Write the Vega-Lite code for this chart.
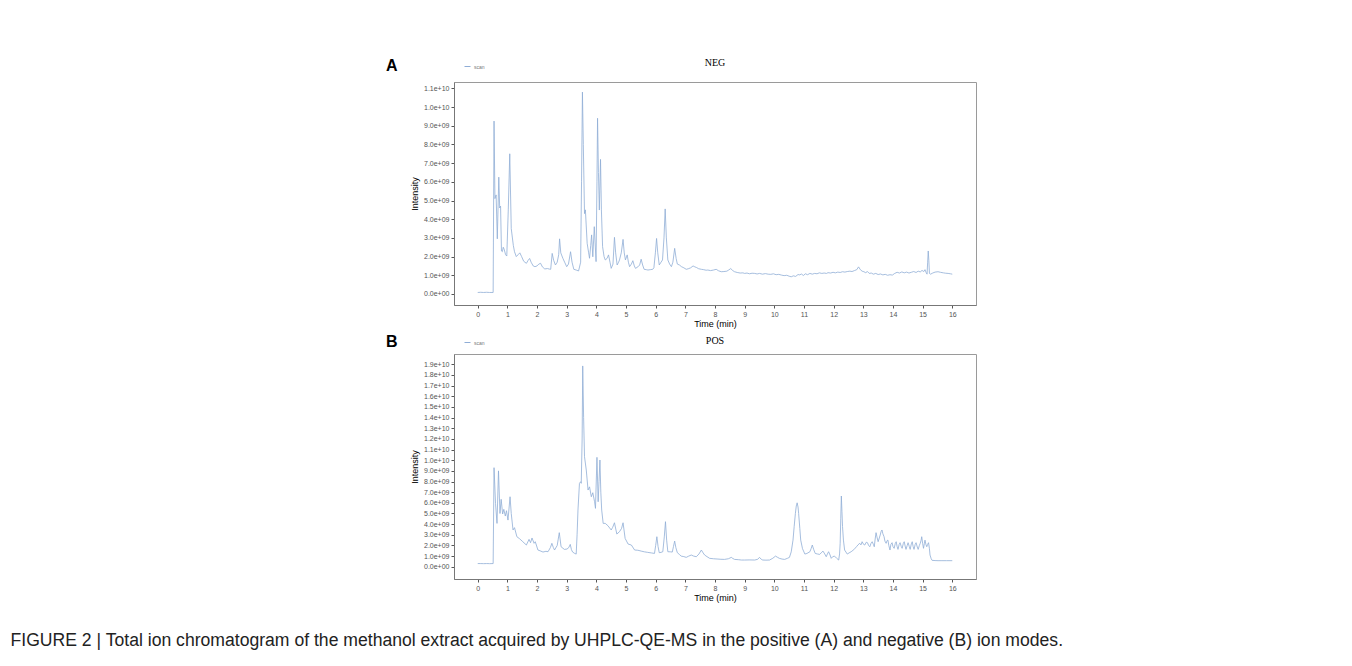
{
  "$schema": "https://vega.github.io/schema/vega-lite/v6.json",
  "background": "white",
  "padding": {"left": 10, "top": 57, "right": 5, "bottom": 5},
  "title": {
    "text": "FIGURE 2 | Total ion chromatogram of the methanol extract acquired by UHPLC-QE-MS in the positive (A) and negative (B) ion modes.",
    "orient": "bottom",
    "anchor": "start",
    "dx": -375,
    "offset": 29,
    "font": "Liberation Sans, sans-serif",
    "fontSize": 17.6,
    "fontWeight": "normal",
    "color": "#222222"
  },
  "datasets": {
    "neg": [
      {"t":0.00,"i":0.08e9},{"t":0.10,"i":0.09e9},{"t":0.20,"i":0.08e9},{"t":0.30,"i":0.09e9},{"t":0.40,"i":0.08e9},{"t":0.52,"i":0.08e9},
      {"t":0.55,"i":9.25e9},{"t":0.58,"i":5.1e9},{"t":0.62,"i":5.3e9},{"t":0.66,"i":2.95e9},{"t":0.71,"i":6.25e9},{"t":0.74,"i":4.6e9},
      {"t":0.77,"i":4.7e9},{"t":0.80,"i":2.3e9},{"t":0.83,"i":2.26e9},{"t":0.86,"i":2.5e9},{"t":0.89,"i":2.4e9},{"t":0.94,"i":2.1e9},
      {"t":0.98,"i":2.03e9},{"t":1.03,"i":4.5e9},{"t":1.08,"i":7.5e9},{"t":1.13,"i":3.5e9},{"t":1.20,"i":2.6e9},{"t":1.24,"i":2.26e9},
      {"t":1.30,"i":2.0e9},{"t":1.36,"i":2.1e9},{"t":1.42,"i":2.2e9},{"t":1.48,"i":2.0e9},{"t":1.55,"i":1.75e9},{"t":1.64,"i":1.64e9},
      {"t":1.70,"i":1.8e9},{"t":1.75,"i":1.9e9},{"t":1.80,"i":1.7e9},{"t":1.87,"i":1.5e9},{"t":1.93,"i":1.46e9},{"t":2.00,"i":1.5e9},
      {"t":2.06,"i":1.6e9},{"t":2.12,"i":1.64e9},{"t":2.18,"i":1.45e9},{"t":2.26,"i":1.34e9},{"t":2.35,"i":1.36e9},{"t":2.42,"i":1.33e9},
      {"t":2.46,"i":1.32e9},{"t":2.51,"i":2.17e9},{"t":2.56,"i":1.8e9},{"t":2.62,"i":1.55e9},{"t":2.68,"i":1.7e9},{"t":2.73,"i":2.1e9},
      {"t":2.76,"i":2.95e9},{"t":2.80,"i":2.2e9},{"t":2.87,"i":1.91e9},{"t":2.93,"i":1.7e9},{"t":3.00,"i":1.46e9},{"t":3.06,"i":1.6e9},
      {"t":3.13,"i":2.26e9},{"t":3.18,"i":1.7e9},{"t":3.24,"i":1.32e9},{"t":3.32,"i":1.28e9},{"t":3.40,"i":1.23e9},{"t":3.47,"i":1.7e9},
      {"t":3.50,"i":6.0e9},{"t":3.53,"i":10.8e9},{"t":3.56,"i":8.0e9},{"t":3.60,"i":4.3e9},{"t":3.63,"i":4.5e9},{"t":3.69,"i":2.71e9},
      {"t":3.74,"i":2.2e9},{"t":3.77,"i":1.91e9},{"t":3.81,"i":2.6e9},{"t":3.84,"i":3.16e9},{"t":3.88,"i":1.99e9},{"t":3.93,"i":3.6e9},
      {"t":3.99,"i":1.73e9},{"t":4.02,"i":6.0e9},{"t":4.04,"i":9.4e9},{"t":4.07,"i":6.5e9},{"t":4.10,"i":4.49e9},{"t":4.14,"i":7.2e9},
      {"t":4.17,"i":4.5e9},{"t":4.21,"i":2.53e9},{"t":4.26,"i":2.0e9},{"t":4.30,"i":1.82e9},{"t":4.36,"i":1.9e9},{"t":4.41,"i":2.09e9},
      {"t":4.46,"i":1.7e9},{"t":4.50,"i":1.37e9},{"t":4.56,"i":1.6e9},{"t":4.61,"i":3.03e9},{"t":4.65,"i":2.2e9},{"t":4.70,"i":1.55e9},
      {"t":4.75,"i":1.7e9},{"t":4.78,"i":1.82e9},{"t":4.84,"i":2.2e9},{"t":4.90,"i":2.92e9},{"t":4.94,"i":2.2e9},{"t":4.98,"i":1.82e9},
      {"t":5.04,"i":2.09e9},{"t":5.08,"i":1.7e9},{"t":5.12,"i":1.46e9},{"t":5.18,"i":1.6e9},{"t":5.23,"i":1.78e9},{"t":5.28,"i":1.5e9},
      {"t":5.32,"i":1.37e9},{"t":5.40,"i":1.45e9},{"t":5.46,"i":1.55e9},{"t":5.51,"i":1.86e9},{"t":5.56,"i":1.55e9},{"t":5.61,"i":1.32e9},
      {"t":5.68,"i":1.3e9},{"t":5.74,"i":1.28e9},{"t":5.82,"i":1.3e9},{"t":5.90,"i":1.32e9},{"t":5.94,"i":1.4e9},{"t":5.99,"i":2.2e9},
      {"t":6.03,"i":2.97e9},{"t":6.07,"i":2.2e9},{"t":6.12,"i":1.55e9},{"t":6.18,"i":1.7e9},{"t":6.23,"i":1.82e9},{"t":6.28,"i":3.0e9},
      {"t":6.32,"i":4.55e9},{"t":6.36,"i":3.0e9},{"t":6.41,"i":1.82e9},{"t":6.47,"i":1.6e9},{"t":6.53,"i":1.46e9},{"t":6.58,"i":1.7e9},
      {"t":6.64,"i":2.44e9},{"t":6.69,"i":1.9e9},{"t":6.73,"i":1.6e9},{"t":6.80,"i":1.55e9},{"t":6.87,"i":1.46e9},{"t":6.95,"i":1.4e9},
      {"t":7.03,"i":1.32e9},{"t":7.10,"i":1.35e9},{"t":7.18,"i":1.4e9},{"t":7.26,"i":1.5e9},{"t":7.32,"i":1.45e9},{"t":7.37,"i":1.42e9},
      {"t":7.45,"i":1.35e9},{"t":7.54,"i":1.32e9},{"t":7.62,"i":1.3e9},{"t":7.70,"i":1.27e9},{"t":7.76,"i":1.28e9},{"t":7.85,"i":1.25e9},
      {"t":7.95,"i":1.28e9},{"t":8.04,"i":1.32e9},{"t":8.12,"i":1.24e9},{"t":8.21,"i":1.19e9},{"t":8.30,"i":1.2e9},{"t":8.40,"i":1.22e9},
      {"t":8.46,"i":1.28e9},{"t":8.53,"i":1.36e9},{"t":8.60,"i":1.25e9},{"t":8.66,"i":1.19e9},{"t":8.75,"i":1.15e9},{"t":8.85,"i":1.12e9},
      {"t":8.94,"i":1.13e9},{"t":9.00,"i":1.1e9},{"t":9.08,"i":1.12e9},{"t":9.16,"i":1.08e9},{"t":9.25,"i":1.11e9},{"t":9.34,"i":1.1e9},
      {"t":9.42,"i":1.07e9},{"t":9.50,"i":1.1e9},{"t":9.60,"i":1.06e9},{"t":9.70,"i":1.09e9},{"t":9.79,"i":1.06e9},{"t":9.88,"i":1.05e9},
      {"t":9.97,"i":1.08e9},{"t":10.06,"i":1.03e9},{"t":10.15,"i":1.05e9},{"t":10.24,"i":1.01e9},{"t":10.33,"i":0.98e9},{"t":10.42,"i":1.0e9},
      {"t":10.50,"i":0.95e9},{"t":10.57,"i":0.92e9},{"t":10.64,"i":0.97e9},{"t":10.72,"i":0.94e9},{"t":10.80,"i":1.04e9},{"t":10.86,"i":1.02e9},
      {"t":10.91,"i":1.07e9},{"t":10.98,"i":0.99e9},{"t":11.05,"i":1.08e9},{"t":11.12,"i":1.03e9},{"t":11.20,"i":1.1e9},{"t":11.28,"i":1.06e9},
      {"t":11.36,"i":1.1e9},{"t":11.44,"i":1.08e9},{"t":11.52,"i":1.13e9},{"t":11.60,"i":1.1e9},{"t":11.68,"i":1.12e9},{"t":11.76,"i":1.1e9},
      {"t":11.81,"i":1.14e9},{"t":11.90,"i":1.12e9},{"t":11.98,"i":1.16e9},{"t":12.06,"i":1.13e9},{"t":12.14,"i":1.17e9},{"t":12.22,"i":1.15e9},
      {"t":12.30,"i":1.19e9},{"t":12.38,"i":1.17e9},{"t":12.46,"i":1.2e9},{"t":12.55,"i":1.22e9},{"t":12.62,"i":1.2e9},{"t":12.70,"i":1.25e9},
      {"t":12.78,"i":1.3e9},{"t":12.84,"i":1.45e9},{"t":12.90,"i":1.3e9},{"t":12.96,"i":1.22e9},{"t":13.02,"i":1.19e9},{"t":13.08,"i":1.14e9},
      {"t":13.14,"i":1.2e9},{"t":13.20,"i":1.1e9},{"t":13.27,"i":1.12e9},{"t":13.34,"i":1.06e9},{"t":13.42,"i":1.1e9},{"t":13.50,"i":1.04e9},
      {"t":13.58,"i":1.07e9},{"t":13.66,"i":1.02e9},{"t":13.74,"i":1.05e9},{"t":13.82,"i":1.0e9},{"t":13.90,"i":1.03e9},{"t":13.98,"i":1.01e9},
      {"t":14.06,"i":1.1e9},{"t":14.14,"i":1.16e9},{"t":14.22,"i":1.12e9},{"t":14.30,"i":1.18e9},{"t":14.38,"i":1.13e9},{"t":14.46,"i":1.17e9},
      {"t":14.54,"i":1.12e9},{"t":14.62,"i":1.16e9},{"t":14.70,"i":1.2e9},{"t":14.78,"i":1.15e9},{"t":14.85,"i":1.22e9},{"t":14.92,"i":1.18e9},
      {"t":14.98,"i":1.26e9},{"t":15.04,"i":1.2e9},{"t":15.08,"i":1.3e9},{"t":15.12,"i":1.14e9},{"t":15.15,"i":1.06e9},{"t":15.17,"i":1.7e9},
      {"t":15.19,"i":2.3e9},{"t":15.21,"i":1.8e9},{"t":15.23,"i":1.1e9},{"t":15.27,"i":1.06e9},{"t":15.34,"i":1.12e9},{"t":15.42,"i":1.17e9},
      {"t":15.52,"i":1.19e9},{"t":15.60,"i":1.16e9},{"t":15.70,"i":1.13e9},{"t":15.78,"i":1.11e9},{"t":15.86,"i":1.1e9},{"t":15.94,"i":1.08e9},
      {"t":16.00,"i":1.06e9}
    ],
    "pos": [
      {"t":0.00,"i":0.3e9},{"t":0.10,"i":0.3e9},{"t":0.20,"i":0.29e9},{"t":0.30,"i":0.3e9},{"t":0.40,"i":0.29e9},{"t":0.52,"i":0.3e9},
      {"t":0.55,"i":9.3e9},{"t":0.60,"i":5.95e9},{"t":0.65,"i":4.07e9},{"t":0.70,"i":9.0e9},{"t":0.75,"i":5.0e9},{"t":0.79,"i":6.33e9},
      {"t":0.84,"i":4.95e9},{"t":0.88,"i":5.39e9},{"t":0.93,"i":4.76e9},{"t":0.97,"i":5.26e9},{"t":1.02,"i":4.38e9},{"t":1.09,"i":6.57e9},
      {"t":1.13,"i":5.0e9},{"t":1.19,"i":3.45e9},{"t":1.24,"i":3.67e9},{"t":1.32,"i":2.82e9},{"t":1.41,"i":2.63e9},{"t":1.52,"i":2.35e9},
      {"t":1.64,"i":2.04e9},{"t":1.73,"i":2.57e9},{"t":1.78,"i":2.26e9},{"t":1.83,"i":2.7e9},{"t":1.90,"i":2.2e9},{"t":1.94,"i":2.35e9},
      {"t":2.03,"i":1.57e9},{"t":2.10,"i":1.5e9},{"t":2.20,"i":1.38e9},{"t":2.30,"i":1.45e9},{"t":2.37,"i":1.41e9},{"t":2.45,"i":1.8e9},
      {"t":2.50,"i":2.2e9},{"t":2.55,"i":1.8e9},{"t":2.59,"i":1.57e9},{"t":2.68,"i":2.0e9},{"t":2.75,"i":3.2e9},{"t":2.81,"i":1.88e9},
      {"t":2.92,"i":1.63e9},{"t":3.01,"i":1.66e9},{"t":3.07,"i":1.8e9},{"t":3.12,"i":2.1e9},{"t":3.16,"i":1.6e9},{"t":3.20,"i":1.38e9},
      {"t":3.27,"i":1.25e9},{"t":3.32,"i":1.19e9},{"t":3.35,"i":3.0e9},{"t":3.38,"i":5.32e9},{"t":3.43,"i":7.83e9},{"t":3.47,"i":7.98e9},
      {"t":3.49,"i":7.83e9},{"t":3.52,"i":12.0e9},{"t":3.54,"i":18.85e9},{"t":3.57,"i":14.0e9},{"t":3.60,"i":10.33e9},{"t":3.66,"i":9.08e9},
      {"t":3.72,"i":7.2e9},{"t":3.77,"i":7.5e9},{"t":3.83,"i":6.57e9},{"t":3.88,"i":6.95e9},{"t":3.94,"i":6.1e9},{"t":3.97,"i":5.48e9},
      {"t":4.02,"i":10.27e9},{"t":4.06,"i":6.1e9},{"t":4.09,"i":8.0e9},{"t":4.12,"i":10.02e9},{"t":4.15,"i":7.0e9},{"t":4.18,"i":5.32e9},
      {"t":4.23,"i":4.07e9},{"t":4.30,"i":4.07e9},{"t":4.39,"i":3.85e9},{"t":4.50,"i":3.45e9},{"t":4.55,"i":3.7e9},{"t":4.61,"i":4.13e9},
      {"t":4.69,"i":3.07e9},{"t":4.78,"i":3.29e9},{"t":4.85,"i":3.6e9},{"t":4.90,"i":4.13e9},{"t":4.97,"i":2.66e9},{"t":5.07,"i":2.13e9},
      {"t":5.18,"i":2.04e9},{"t":5.29,"i":1.57e9},{"t":5.40,"i":1.55e9},{"t":5.51,"i":1.47e9},{"t":5.62,"i":1.4e9},{"t":5.73,"i":1.35e9},
      {"t":5.85,"i":1.3e9},{"t":5.96,"i":1.25e9},{"t":6.00,"i":2.0e9},{"t":6.04,"i":2.82e9},{"t":6.08,"i":1.9e9},{"t":6.12,"i":1.32e9},
      {"t":6.18,"i":1.35e9},{"t":6.24,"i":1.41e9},{"t":6.29,"i":2.8e9},{"t":6.33,"i":4.23e9},{"t":6.37,"i":2.5e9},{"t":6.41,"i":1.41e9},
      {"t":6.50,"i":1.4e9},{"t":6.56,"i":1.38e9},{"t":6.60,"i":1.9e9},{"t":6.64,"i":2.41e9},{"t":6.68,"i":1.8e9},{"t":6.73,"i":1.32e9},
      {"t":6.80,"i":1.15e9},{"t":6.86,"i":1.0e9},{"t":6.95,"i":0.95e9},{"t":7.03,"i":0.88e9},{"t":7.10,"i":0.98e9},{"t":7.20,"i":1.1e9},
      {"t":7.28,"i":1.0e9},{"t":7.37,"i":0.94e9},{"t":7.46,"i":1.2e9},{"t":7.54,"i":1.57e9},{"t":7.60,"i":1.3e9},{"t":7.65,"i":1.1e9},
      {"t":7.73,"i":0.95e9},{"t":7.82,"i":0.79e9},{"t":7.95,"i":0.75e9},{"t":8.10,"i":0.72e9},{"t":8.20,"i":0.7e9},{"t":8.32,"i":0.69e9},
      {"t":8.45,"i":0.75e9},{"t":8.55,"i":0.88e9},{"t":8.60,"i":0.78e9},{"t":8.66,"i":0.69e9},{"t":8.80,"i":0.66e9},{"t":8.89,"i":0.63e9},
      {"t":9.00,"i":0.63e9},{"t":9.15,"i":0.64e9},{"t":9.34,"i":0.63e9},{"t":9.44,"i":0.7e9},{"t":9.50,"i":0.88e9},{"t":9.56,"i":0.7e9},
      {"t":9.61,"i":0.63e9},{"t":9.72,"i":0.62e9},{"t":9.84,"i":0.63e9},{"t":9.95,"i":0.8e9},{"t":10.04,"i":1.0e9},{"t":10.10,"i":0.9e9},
      {"t":10.17,"i":0.79e9},{"t":10.26,"i":0.72e9},{"t":10.35,"i":0.69e9},{"t":10.45,"i":0.8e9},{"t":10.51,"i":0.88e9},{"t":10.57,"i":1.4e9},
      {"t":10.63,"i":2.5e9},{"t":10.67,"i":3.8e9},{"t":10.71,"i":5.0e9},{"t":10.74,"i":5.7e9},{"t":10.77,"i":6.0e9},{"t":10.80,"i":5.6e9},
      {"t":10.82,"i":5.0e9},{"t":10.86,"i":3.6e9},{"t":10.89,"i":2.5e9},{"t":10.95,"i":1.7e9},{"t":11.03,"i":1.19e9},{"t":11.10,"i":1.25e9},
      {"t":11.20,"i":1.41e9},{"t":11.24,"i":1.7e9},{"t":11.28,"i":2.04e9},{"t":11.33,"i":1.6e9},{"t":11.38,"i":1.25e9},{"t":11.45,"i":1.2e9},
      {"t":11.53,"i":1.16e9},{"t":11.58,"i":1.3e9},{"t":11.64,"i":1.47e9},{"t":11.70,"i":1.2e9},{"t":11.75,"i":0.94e9},{"t":11.79,"i":1.2e9},
      {"t":11.83,"i":1.41e9},{"t":11.88,"i":1.1e9},{"t":11.92,"i":0.79e9},{"t":11.97,"i":0.95e9},{"t":12.03,"i":1.0e9},{"t":12.10,"i":0.8e9},
      {"t":12.17,"i":0.63e9},{"t":12.20,"i":1.2e9},{"t":12.22,"i":2.2e9},{"t":12.24,"i":4.5e9},{"t":12.26,"i":6.64e9},{"t":12.28,"i":5.2e9},
      {"t":12.30,"i":3.76e9},{"t":12.33,"i":2.5e9},{"t":12.37,"i":1.57e9},{"t":12.46,"i":1.19e9},{"t":12.52,"i":1.3e9},{"t":12.59,"i":1.41e9},
      {"t":12.68,"i":1.6e9},{"t":12.77,"i":1.88e9},{"t":12.82,"i":2.05e9},{"t":12.88,"i":2.2e9},{"t":12.92,"i":2.05e9},{"t":12.96,"i":2.35e9},
      {"t":13.01,"i":2.1e9},{"t":13.05,"i":2.04e9},{"t":13.10,"i":2.3e9},{"t":13.14,"i":2.26e9},{"t":13.18,"i":2.0e9},{"t":13.22,"i":1.88e9},
      {"t":13.26,"i":2.2e9},{"t":13.30,"i":2.35e9},{"t":13.34,"i":2.1e9},{"t":13.37,"i":1.88e9},{"t":13.40,"i":2.6e9},{"t":13.43,"i":3.2e9},
      {"t":13.46,"i":2.8e9},{"t":13.50,"i":2.35e9},{"t":13.54,"i":2.7e9},{"t":13.57,"i":2.98e9},{"t":13.60,"i":3.3e9},{"t":13.63,"i":3.45e9},
      {"t":13.66,"i":3.1e9},{"t":13.70,"i":2.82e9},{"t":13.73,"i":2.4e9},{"t":13.77,"i":2.2e9},{"t":13.80,"i":2.45e9},{"t":13.83,"i":2.5e9},
      {"t":13.86,"i":2.0e9},{"t":13.90,"i":1.57e9},{"t":13.93,"i":2.1e9},{"t":13.97,"i":2.26e9},{"t":14.00,"i":1.9e9},{"t":14.04,"i":1.73e9},
      {"t":14.08,"i":2.2e9},{"t":14.11,"i":2.35e9},{"t":14.14,"i":1.9e9},{"t":14.17,"i":1.63e9},{"t":14.21,"i":2.1e9},{"t":14.24,"i":2.26e9},
      {"t":14.28,"i":1.9e9},{"t":14.31,"i":1.73e9},{"t":14.35,"i":2.2e9},{"t":14.38,"i":2.35e9},{"t":14.41,"i":1.95e9},{"t":14.44,"i":1.63e9},
      {"t":14.48,"i":2.0e9},{"t":14.51,"i":2.26e9},{"t":14.55,"i":1.9e9},{"t":14.58,"i":1.63e9},{"t":14.62,"i":2.15e9},{"t":14.65,"i":2.35e9},
      {"t":14.68,"i":1.9e9},{"t":14.71,"i":1.63e9},{"t":14.75,"i":2.1e9},{"t":14.78,"i":2.26e9},{"t":14.82,"i":1.85e9},{"t":14.85,"i":1.63e9},
      {"t":14.89,"i":2.0e9},{"t":14.92,"i":2.2e9},{"t":14.95,"i":2.5e9},{"t":14.97,"i":2.82e9},{"t":15.00,"i":2.2e9},{"t":15.03,"i":1.73e9},
      {"t":15.06,"i":2.2e9},{"t":15.08,"i":2.5e9},{"t":15.11,"i":2.1e9},{"t":15.14,"i":1.88e9},{"t":15.17,"i":2.1e9},{"t":15.20,"i":2.26e9},
      {"t":15.23,"i":1.7e9},{"t":15.25,"i":1.1e9},{"t":15.29,"i":0.75e9},{"t":15.32,"i":0.6e9},{"t":15.42,"i":0.58e9},{"t":15.52,"i":0.57e9},
      {"t":15.65,"i":0.57e9},{"t":15.80,"i":0.57e9},{"t":16.00,"i":0.57e9}
    ]
  },
  "vconcat": [
    {
      "width": 522,
      "height": 223,
      "data": {"name": "neg"},
      "title": {"text": "NEG", "offset": -5},
      "mark": {"type": "line", "strokeWidth": 0.8},
      "encoding": {
        "x": {"field": "t", "type": "quantitative", "scale": {"domain": [-0.8, 16.8], "nice": false, "zero": false},
              "axis": {"values": [0,1,2,3,4,5,6,7,8,9,10,11,12,13,14,15,16], "title": "Time (min)"}},
        "y": {"field": "i", "type": "quantitative", "scale": {"domain": [-0.59e9, 11.34e9], "nice": false, "zero": false},
              "axis": {"values": [0,1e9,2e9,3e9,4e9,5e9,6e9,7e9,8e9,9e9,10e9,11e9], "title": "Intensity",
                       "labelExpr": "datum.value == 0 ? '0.0e+00' : format(datum.value / pow(10, floor(log(datum.value) / LN10 + 1e-6)), '.1f') + 'e+' + (floor(log(datum.value) / LN10 + 1e-6) < 10 ? '0' : '') + floor(log(datum.value) / LN10 + 1e-6)"}},
        "color": {"datum": "scan", "scale": {"range": ["#8fadd6"]},
                  "legend": {"title": "A", "orient": "none", "legendX": -68, "legendY": -19}}
      }
    },
    {
      "width": 522,
      "height": 225,
      "data": {"name": "pos"},
      "title": {"text": "POS", "offset": -7},
      "mark": {"type": "line", "strokeWidth": 0.8},
      "encoding": {
        "x": {"field": "t", "type": "quantitative", "scale": {"domain": [-0.8, 16.8], "nice": false, "zero": false},
              "axis": {"values": [0,1,2,3,4,5,6,7,8,9,10,11,12,13,14,15,16], "title": "Time (min)"}},
        "y": {"field": "i", "type": "quantitative", "scale": {"domain": [-1.15e9, 19.97e9], "nice": false, "zero": false},
              "axis": {"values": [0,1e9,2e9,3e9,4e9,5e9,6e9,7e9,8e9,9e9,10e9,11e9,12e9,13e9,14e9,15e9,16e9,17e9,18e9,19e9], "title": "Intensity",
                       "labelExpr": "datum.value == 0 ? '0.0e+00' : format(datum.value / pow(10, floor(log(datum.value) / LN10 + 1e-6)), '.1f') + 'e+' + (floor(log(datum.value) / LN10 + 1e-6) < 10 ? '0' : '') + floor(log(datum.value) / LN10 + 1e-6)"}},
        "color": {"datum": "scan", "scale": {"range": ["#8fadd6"]},
                  "legend": {"title": "B", "orient": "none", "legendX": -68, "legendY": -15}}
      }
    }
  ],
  "spacing": 6,
  "resolve": {"scale": {"color": "independent"}, "legend": {"color": "independent"}},
  "config": {
    "font": "Liberation Sans",
    "view": {"stroke": "#9a9a9a", "strokeWidth": 1},
    "title": {"font": "Liberation Serif", "fontSize": 10, "fontWeight": "normal", "color": "#000000", "anchor": "middle"},
    "axis": {
      "grid": false,
      "labelFont": "Liberation Sans",
      "labelFontSize": 7,
      "labelColor": "#555555",
      "labelPadding": 2,
      "tickColor": "#555555",
      "tickSize": 3,
      "domainColor": "#777777",
      "titleFont": "Liberation Sans",
      "titleFontSize": 9,
      "titleFontWeight": "normal",
      "titleColor": "#000000"
    },
    "axisX": {"titlePadding": 2},
    "axisY": {"titlePadding": 4},
    "legend": {
      "titleOrient": "left",
      "titleFont": "Liberation Sans",
      "titleFontSize": 16,
      "titleFontWeight": "bold",
      "titleColor": "#000000",
      "titlePadding": 66,
      "labelFontSize": 5,
      "labelColor": "#777777",
      "symbolType": "stroke",
      "symbolSize": 36,
      "symbolStrokeWidth": 1,
      "labelOffset": 3
    }
  }
}
